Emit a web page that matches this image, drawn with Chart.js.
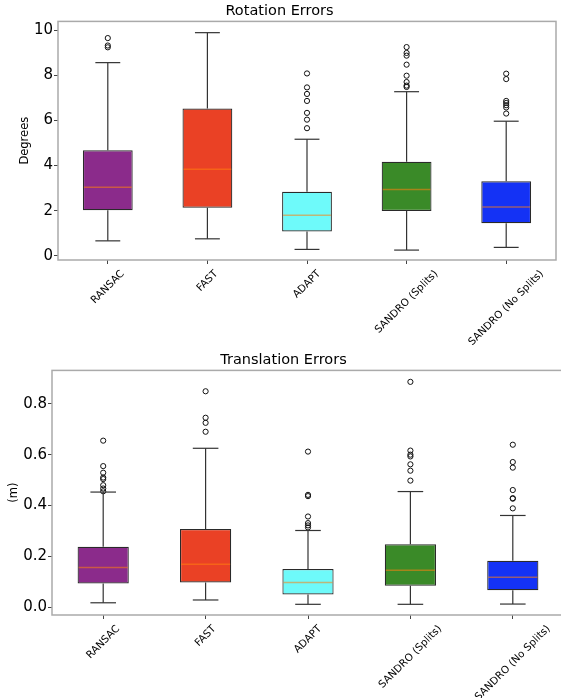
<!DOCTYPE html>
<html>
<head>
<meta charset="utf-8">
<script src="https://cdn.jsdelivr.net/npm/chart.js@4.4.1/dist/chart.umd.min.js"></script>
<style>
	html, body { margin: 0; padding: 0; background: #fff; overflow: hidden; width: 561px; height: 698px; }
	.holder { position: absolute; left: 0; }
	#rotHolder { top: 0; width: 561px; height: 345px; }
	#transHolder { top: 349px; width: 569px; height: 349px; }
</style>
</head>
<body>
<div class="holder" id="rotHolder"><canvas id="rotChart"></canvas></div>
<div class="holder" id="transHolder"><canvas id="transChart"></canvas></div>
<script>
	'use strict';

	var categories = ['RANSAC', 'FAST', 'ADAPT', 'SANDRO (Splits)', 'SANDRO (No Splits)'];
	var boxColors = ['#8b2b8b', '#ea4125', '#6efafa', '#3a8a28', '#1432f5'];

	// rotation errors (degrees)
	var rotMin = [0.66, 0.75, 0.28, 0.25, 0.37];
	var rotQ1 = [2.02, 2.13, 1.08, 1.99, 1.44];
	var rotMedian = [3.04, 3.84, 1.80, 2.94, 2.16];
	var rotQ3 = [4.68, 6.53, 2.84, 4.17, 3.30];
	var rotMax = [8.57, 9.90, 5.17, 7.28, 5.97];
	var rotOutliers = [
		[9.66, 9.33, 9.25],
		[],
		[8.09, 7.47, 7.18, 6.87, 6.34, 6.04, 5.66],
		[9.26, 9.00, 8.88, 8.48, 7.99, 7.71, 7.55, 7.49],
		[8.08, 7.84, 6.87, 6.78, 6.68, 6.58, 6.31]
	];
	var rotTicks = [0, 2, 4, 6, 8, 10];

	// translation errors (m)
	var transMin = [0.018, 0.029, 0.012, 0.012, 0.013];
	var transQ1 = [0.094, 0.098, 0.051, 0.085, 0.067];
	var transMedian = [0.157, 0.169, 0.098, 0.146, 0.118];
	var transQ3 = [0.238, 0.308, 0.151, 0.248, 0.183];
	var transMax = [0.453, 0.625, 0.302, 0.455, 0.361];
	var transOutliers = [
		[0.655, 0.555, 0.529, 0.510, 0.504, 0.480, 0.467, 0.456],
		[0.849, 0.745, 0.725, 0.690],
		[0.612, 0.442, 0.437, 0.357, 0.331, 0.322, 0.314],
		[0.886, 0.616, 0.600, 0.593, 0.562, 0.537, 0.498],
		[0.639, 0.571, 0.549, 0.461, 0.429, 0.427, 0.389]
	];
	var transTicks = [0.0, 0.2, 0.4, 0.6, 0.8];

	/**
	 * Whiskers, caps, medians, the axes frame and centred 45deg category labels
	 */
	function boxPartsPlugin(lo, med, hi, q1, q3) {
		return {
			id: 'boxParts',
			afterDatasetsDraw: function (chart) {
				var ctx = chart.ctx,
					y = chart.scales.y,
					area = chart.chartArea,
					meta = chart.getDatasetMeta(0);

				function line(x1, y1, x2, y2) {
					ctx.beginPath();
					ctx.moveTo(x1, y1);
					ctx.lineTo(x2, y2);
					ctx.stroke();
				}

				ctx.save();
				meta.data.forEach(function (bar, i) {
					var x = bar.x,
						half = bar.width / 2,
						cap = bar.width / 4;

					ctx.strokeStyle = '#333';
					ctx.lineWidth = 1.2;
					line(x, y.getPixelForValue(q3[i]), x, y.getPixelForValue(hi[i]));
					line(x, y.getPixelForValue(q1[i]), x, y.getPixelForValue(lo[i]));
					line(x - cap, y.getPixelForValue(hi[i]), x + cap, y.getPixelForValue(hi[i]));
					line(x - cap, y.getPixelForValue(lo[i]), x + cap, y.getPixelForValue(lo[i]));

					ctx.strokeStyle = 'rgba(255, 127, 14, 0.55)';
					ctx.lineWidth = 1.5;
					line(x - half + 1, y.getPixelForValue(med[i]), x + half - 1, y.getPixelForValue(med[i]));
				});

				ctx.strokeStyle = '#aaa';
				ctx.lineWidth = 1.5;
				ctx.strokeRect(area.left, area.top, area.right - area.left, area.bottom - area.top);
				ctx.restore();
			},
			afterDraw: function (chart) {
				var ctx = chart.ctx,
					xs = chart.scales.x,
					fontSize = 10.3,
					c45 = Math.SQRT1_2;

				ctx.save();
				ctx.font = fontSize + 'px "DejaVu Sans"';
				ctx.fillStyle = '#000';
				ctx.textAlign = 'center';
				ctx.textBaseline = 'middle';
				categories.forEach(function (label, i) {
					var tx = xs.getPixelForTick(i),
						w = ctx.measureText(label).width,
						boxSize = (w + fontSize * 1.15) * c45,
						cy = xs.top + 8 + boxSize / 2;

					ctx.save();
					ctx.translate(tx, cy);
					ctx.rotate(-Math.PI / 4);
					ctx.fillText(label, 0, 0);
					ctx.restore();
				});
				ctx.restore();
			}
		};
	}

	function makeBoxChart(canvasId, opts) {
		var boxes = categories.map(function (c, i) {
				return [opts.q1[i], opts.q3[i]];
			}),
			points = [];

		opts.outliers.forEach(function (list, i) {
			list.forEach(function (v) {
				points.push({x: categories[i], y: v});
			});
		});

		return new Chart(document.getElementById(canvasId), {
			type: 'bar',
			data: {
				labels: categories,
				datasets: [{
					type: 'bar',
					data: boxes,
					backgroundColor: boxColors,
					borderColor: '#2a2a2a',
					borderWidth: 1.2,
					borderSkipped: false,
					barPercentage: 0.5,
					categoryPercentage: 1
				}, {
					type: 'line',
					data: points,
					showLine: false,
					pointStyle: 'circle',
					pointRadius: 2.6,
					pointBorderWidth: 1,
					pointBorderColor: '#111',
					pointBackgroundColor: 'rgba(0,0,0,0)'
				}]
			},
			options: {
				responsive: true,
				maintainAspectRatio: false,
				animation: false,
				layout: {padding: {left: 0, right: 2, top: 0, bottom: 0}},
				plugins: {
					legend: {display: false},
					tooltip: {enabled: false},
					title: {
						display: true,
						text: opts.title,
						color: '#000',
						font: {family: 'DejaVu Sans', size: 14.5, weight: 'normal'},
						padding: {top: 3, bottom: 1}
					}
				},
				scales: {
					x: {
						offset: true,
						grid: {display: true, offset: false, drawOnChartArea: false, drawTicks: true, tickLength: 4, color: '#444'},
						border: {display: false},
						ticks: {
							color: 'rgba(0,0,0,0)',
							font: {family: 'DejaVu Sans', size: 10},
							maxRotation: 0,
							minRotation: 0,
							autoSkip: false
						},
						afterFit: function (scale) {
							scale.height = opts.xHeight;
						}
					},
					y: {
						min: opts.min,
						max: opts.max,
						grid: {display: true, drawOnChartArea: false, drawTicks: true, tickLength: 4, color: '#444'},
						border: {display: false},
						title: {
							display: true,
							text: opts.yTitle,
							color: '#000',
							font: {family: 'DejaVu Sans', size: 11.5},
							padding: {top: opts.titlePad, bottom: 0}
						},
						ticks: {
							color: '#000',
							font: {family: 'DejaVu Sans', size: 15},
							padding: 1,
							callback: function (v) {
								return opts.decimals ? Number(v).toFixed(1) : String(v);
							}
						},
						afterBuildTicks: function (scale) {
							scale.ticks = opts.ticks.map(function (v) {
								return {value: v};
							});
						},
						afterFit: function (scale) {
							scale.width = opts.yWidth;
						}
					}
				}
			},
			plugins: [boxPartsPlugin(opts.lo, opts.med, opts.hi, opts.q1, opts.q3)]
		});
	}

	makeBoxChart('rotChart', {
		title: 'Rotation Errors',
		yTitle: 'Degrees',
		lo: rotMin, q1: rotQ1, med: rotMedian, q3: rotQ3, hi: rotMax,
		outliers: rotOutliers,
		ticks: rotTicks,
		min: -0.19, max: 10.40,
		decimals: false,
		xHeight: 85, yWidth: 58, titlePad: 18
	});

	makeBoxChart('transChart', {
		title: 'Translation Errors',
		yTitle: '(m)',
		lo: transMin, q1: transQ1, med: transMedian, q3: transQ3, hi: transMax,
		outliers: transOutliers,
		ticks: transTicks,
		min: -0.030, max: 0.931,
		decimals: true,
		xHeight: 83, yWidth: 52, titlePad: 7
	});
</script>
</body>
</html>
